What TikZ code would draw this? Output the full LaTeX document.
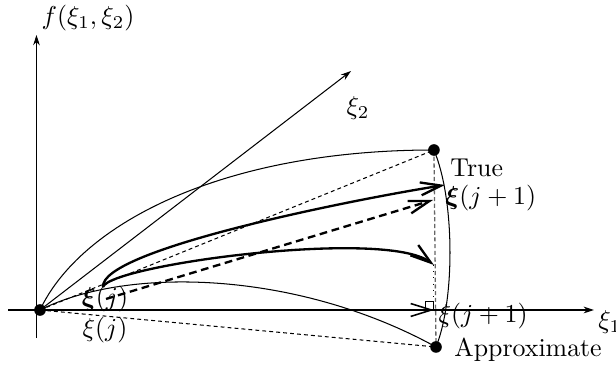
\documentclass[tikz,border=0pt]{standalone}
\usepackage{amsmath}
\usetikzlibrary{arrows.meta}

\begin{document}
\begin{tikzpicture}[
    axis/.style={-{Stealth[length=4pt,width=2.6pt]}, thin},
    dot/.style={circle, fill, inner sep=0pt, minimum size=4.5pt},
    guide/.style={dash pattern=on 1.5pt off 1.2pt},
    barb/.style={-{Straight Barb[length=8pt,width=5pt]}},
    move/.style={barb, line width=0.9pt},
    lbl/.style={inner sep=0pt, anchor=west}
]

\useasboundingbox (-0.544,-0.775) rectangle (7.834,4.216);

% Points
\coordinate (O) at (0,0);
\coordinate (T) at (5.358,2.176);
\coordinate (A) at (5.386,-0.503);
\coordinate (xj) at (0.857,0.313);
\coordinate (xjlin) at (0.898,0.150);
\coordinate (ta) at (5.508,1.7);
\coordinate (tb) at (5.345,1.496);
\coordinate (tc) at (5.358,0.612);
\coordinate (foot) at (5.358,0);
\coordinate (e1s) at (-0.435,0);
\coordinate (e1) at (7.534,0);
\coordinate (e2) at (4.23,3.25);
\coordinate (e3s) at (-0.048,-0.381);
\coordinate (e3) at (-0.048,3.74);

% Axes
\draw[axis] (e1s) -- (e1);
\draw[axis] (e3s) -- (e3);
\draw[axis] (O) -- (e2);
\node[anchor=north west, inner xsep=1.5pt, inner ysep=0pt] (xi1lbl) at (e1) {$\xi_1$};
\node (xi2lbl) at (4.325,2.747) {$\xi_2$};
\node (flbl) at (0.653,3.971) {$f(\xi_1,\xi_2)$};

% Surface traces
\draw (O) .. controls (0.544,1.156) and (2.448,2.176) .. (T);
\draw (O) .. controls (1.224,0.612) and (3.536,0.517) .. (A);
\draw (T) .. controls (5.644,1.496) and (5.644,0.136) .. (A);

% Chords
\draw[guide] (O) -- (T);
\draw[guide] (O) -- (A);
\draw[black!60, line width=0.5pt, dash pattern=on 1.6pt off 1pt] (T) -- (A);
\draw[dotted] (tc) -- (foot);
\draw (foot) rectangle ++(-0.12,0.12);

% Steps
\draw[move] (xj) .. controls (0.816,0.816) and (4.216,1.496) .. (ta);
\draw[move] (xj) .. controls (0.952,0.612) and (4.692,1.115) .. (tc);
\draw[move, dash pattern=on 3pt off 1.8pt] (xjlin) -- (tb);
\draw[barb, line width=0.6pt, dash pattern=on 2.6pt off 1.4pt] (O) -- (foot);

% Dots
\foreach \p in {O,T,A}
    \node[dot] (\p dot) at (\p) {};

% Labels
\node[lbl] (truelbl) at (5.576,1.93) {True};
\node[lbl] (xtrue) at (5.508,1.523) {$\boldsymbol{\xi}(j+1)$};
\node[lbl] (xapprox) at (5.413,-0.082) {$\xi(j+1)$};
\node[lbl] (apprlbl) at (5.63,-0.544) {Approximate};
\node (xjbold) at (0.884,0.15) {$\boldsymbol{\xi}(j)$};
\node (xjreg) at (0.884,-0.272) {$\xi(j)$};

\end{tikzpicture}
\end{document}
